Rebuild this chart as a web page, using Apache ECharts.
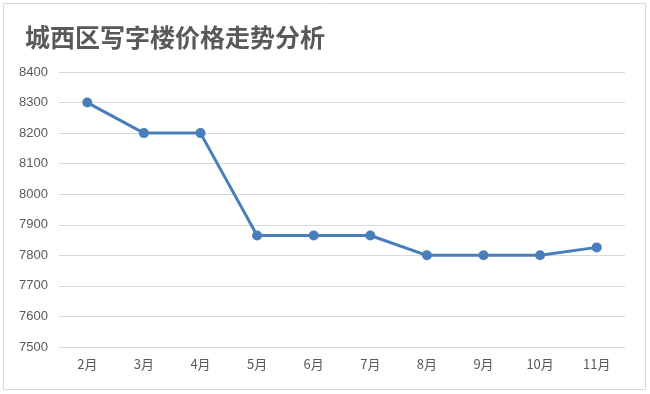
<!DOCTYPE html>
<html><head><meta charset="utf-8">
<script src="https://cdn.jsdelivr.net/npm/echarts@6/dist/echarts.min.js"></script>
<style>html,body{margin:0;padding:0;background:#fff}#c{width:650px;height:394px}</style>
</head><body><div id="c"></div>
<script>
const titleText = '城西区写字楼价格走势分析';
const categories = ['2月','3月','4月','5月','6月','7月','8月','9月','10月','11月'];
const prices = [8300, 8200, 8200, 7865, 7865, 7865, 7800, 7800, 7800, 7826];
const yMin = 7500, yMax = 8400, yStep = 100;

const chart = echarts.init(document.getElementById('c'));
chart.setOption({
  backgroundColor: '#fff',
  animation: false,
  graphic: [{type:'rect', shape:{x:3.5,y:3.5,width:642,height:386}, style:{fill:'none', stroke:'#d9d9d9', lineWidth:1}}],
  title: {text: titleText, left: 20, top: 20, textStyle:{fontFamily:'Noto Sans CJK SC', fontSize:25, fontWeight:'bold', color:'#595959'}},
  grid: {left: 59, right: 25, top: 72, bottom: 47},
  xAxis: {type:'category', data: categories, boundaryGap: true,
    axisLine:{show:false}, axisTick:{show:false},
    axisLabel:{color:'#595959', fontSize:13, margin:11, fontFamily:'Noto Sans CJK SC'}},
  yAxis: {type:'value', min:yMin, max:yMax, interval:yStep,
    axisLine:{show:false}, axisTick:{show:false},
    axisLabel:{color:'#595959', fontSize:13, margin:11, fontFamily:'Liberation Sans', formatter: v => String(v)},
    splitLine:{lineStyle:{color:'#d9d9d9', width:1}}},
  series: [{type:'line', data: prices, symbol:'circle', symbolSize:10,
    lineStyle:{color:'#4A7EBB', width:3}, itemStyle:{color:'#4A7EBB'}}]
});
</script></body></html>
